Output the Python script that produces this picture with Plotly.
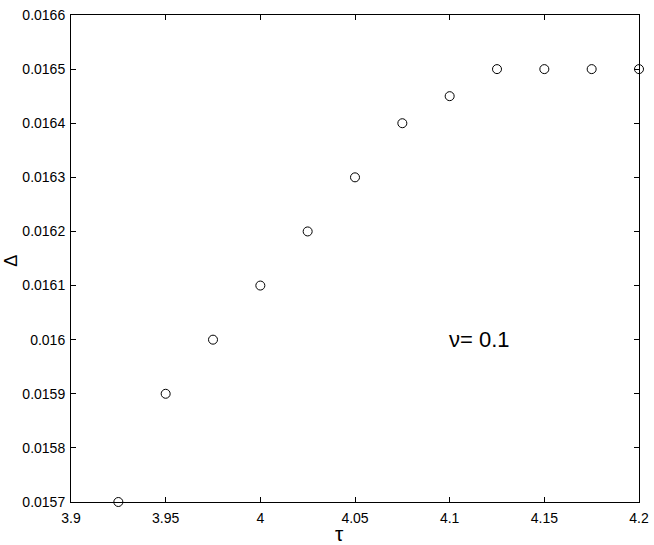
import plotly.graph_objects as go

tau = [3.925, 3.95, 3.975, 4.0, 4.025, 4.05, 4.075, 4.1, 4.125, 4.15, 4.175, 4.2]
delta = [0.0157, 0.0159, 0.0160, 0.0161, 0.0162, 0.0163, 0.0164, 0.01645,
         0.0165, 0.0165, 0.0165, 0.0165]

x_ticks = [3.9, 3.95, 4.0, 4.05, 4.1, 4.15, 4.2]
x_labels = ["3.9", "3.95", "4", "4.05", "4.1", "4.15", "4.2"]
y_ticks = [0.0157, 0.0158, 0.0159, 0.016, 0.0161, 0.0162, 0.0163, 0.0164, 0.0165, 0.0166]
y_labels = ["0.0157", "0.0158", "0.0159", "0.016", "0.0161", "0.0162",
            "0.0163", "0.0164", "0.0165", "0.0166"]

font = "Liberation Sans, Arial, sans-serif"

fig = go.Figure()
fig.add_trace(go.Scatter(
    x=tau, y=delta, mode="markers",
    marker=dict(symbol="circle-open", size=9, color="black", line=dict(width=1)),
    cliponaxis=False, showlegend=False,
))

axis = dict(
    showline=True, linecolor="black", linewidth=1, mirror="ticks",
    ticks="inside", ticklen=5, tickcolor="black", showgrid=False,
    zeroline=False, automargin=False, ticklabeloverflow="allow",
    tickfont=dict(family=font, size=14, color="black"),
)

fig.update_xaxes(range=[3.9, 4.2], tickvals=x_ticks, ticktext=x_labels,
                 ticklabelstandoff=3, **axis)
fig.update_yaxes(range=[0.0157, 0.0166], tickvals=y_ticks, ticktext=y_labels,
                 ticklabelstandoff=2, **axis)

# axis titles
fig.add_annotation(x=0.472, y=-0.064, xref="paper", yref="paper", text="τ",
                   showarrow=False, xanchor="center", yanchor="middle",
                   font=dict(family=font, size=21, color="black"))
fig.add_annotation(x=-0.106, y=0.495, xref="paper", yref="paper", text="Δ",
                   showarrow=False, xanchor="center", yanchor="middle", textangle=-90,
                   font=dict(family=font, size=18, color="black"))

fig.add_annotation(x=4.116, y=0.016, xref="x", yref="y", text="ν= 0.1",
                   showarrow=False, xanchor="center", yanchor="middle",
                   font=dict(family=font, size=22, color="black"))

fig.update_layout(
    width=654, height=545,
    margin=dict(l=71, r=15, t=15, b=43),
    plot_bgcolor="white", paper_bgcolor="white",
)

# drop the default 8px body margin so the figure fills the window
fig.write_html("out.html", config={"displayModeBar": False},
               post_script="document.body.style.margin='0';")
